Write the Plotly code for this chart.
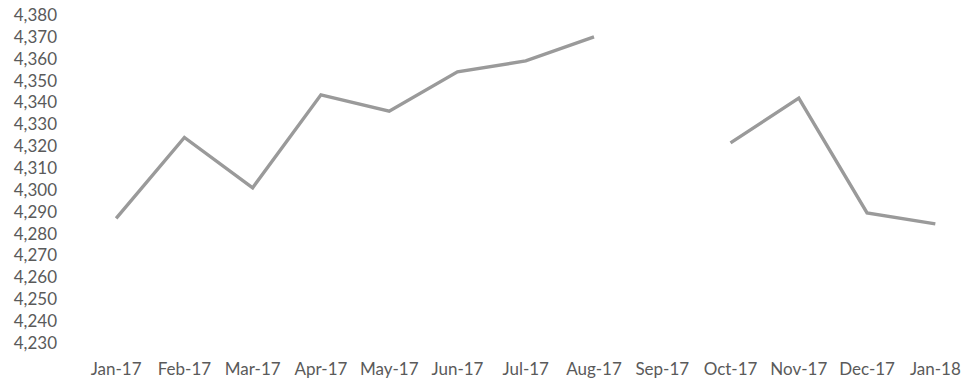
import plotly.graph_objects as go

# Monthly values, Jan-17 to Jan-18 (no reading for Sep-17)
months = ["Jan-17", "Feb-17", "Mar-17", "Apr-17", "May-17", "Jun-17", "Jul-17",
          "Aug-17", "Sep-17", "Oct-17", "Nov-17", "Dec-17", "Jan-18"]
values = [4287, 4324, 4301, 4343.5, 4336, 4354, 4359,
          4370, None, 4321.5, 4342, 4289.5, 4284.5]

y_ticks = list(range(4230, 4381, 10))
y_labels = [f"{v:,}" for v in y_ticks]

fig = go.Figure()
fig.add_trace(go.Scatter(
    x=list(range(len(months))),
    y=values,
    mode="lines",
    connectgaps=False,
    line=dict(color="#9a9a9a", width=3.4),
))

font_family = "Lato, 'Open Sans', sans-serif"
fig.update_layout(
    width=964,
    height=381,
    margin=dict(l=82, r=0, t=15, b=38),
    paper_bgcolor="white",
    plot_bgcolor="white",
    showlegend=False,
    font=dict(family=font_family, size=16, color="#5a5a5a"),
    xaxis=dict(
        range=[-0.5, 12.42],
        tickmode="array",
        tickvals=list(range(len(months))),
        ticktext=months,
        showgrid=False,
        zeroline=False,
        showline=False,
        ticks="",
        ticklabelstandoff=14,
        tickfont=dict(size=17),
    ),
    yaxis=dict(
        range=[4230, 4380],
        tickmode="array",
        tickvals=y_ticks,
        ticktext=y_labels,
        showgrid=False,
        zeroline=False,
        showline=False,
        ticks="",
        ticklabelstandoff=24,
        tickfont=dict(size=17),
    ),
)

fig.write_html("out.html")
